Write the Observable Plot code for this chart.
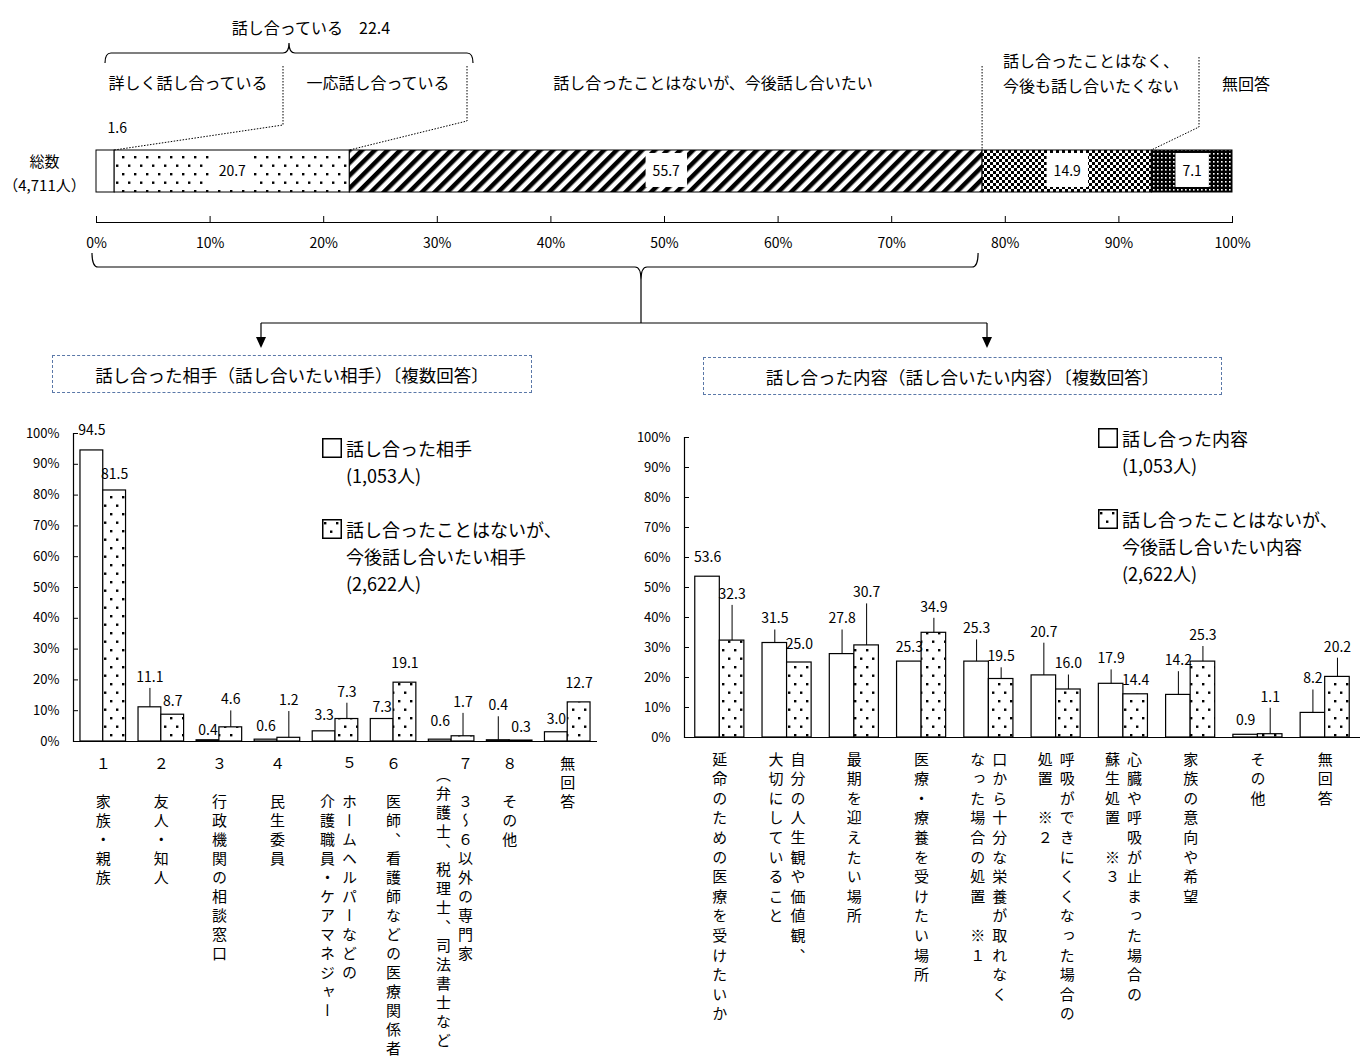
<!DOCTYPE html>
<html lang="ja">
<head>
<meta charset="utf-8">
<script src="https://cdn.jsdelivr.net/npm/d3@7"></script>
<script src="https://cdn.jsdelivr.net/npm/@observablehq/plot@0.6"></script>
<style>
  html, body { margin: 0; padding: 0; background: #fff; }
  #page { position: relative; width: 1368px; height: 1058px; overflow: hidden;
          font-family: "Noto Sans CJK JP", sans-serif; color: #000; }
  .title-box { position: absolute; box-sizing: border-box; border: 1.5px dashed #5a78a8;
               display: flex; align-items: center; justify-content: center; font-size: 17.5px; }
  .legend { position: absolute; font-size: 18px; }
  .legend .row { display: flex; align-items: center; height: 27px; white-space: nowrap; }
</style>
</head>
<body>
<div id="page"></div>
<script>
// ---------------- data ----------------
// Overall: have you discussed end-of-life care? (total 4,711 people)
const topCategories = [
  "詳しく話し合っている",
  "一応話し合っている",
  "話し合ったことはないが、今後話し合いたい",
  "話し合ったことはなく、今後も話し合いたくない",
  "無回答"
];
const topValues = [1.6, 20.7, 55.7, 14.9, 7.1];
const discussedTotal = 22.4;
const topRowLabel = "総数\n（4,711人）";
const topTicks = [0, 10, 20, 30, 40, 50, 60, 70, 80, 90, 100];

// Who they discussed with / want to discuss with
const partnerTitle = "話し合った相手（話し合いたい相手）〔複数回答〕";
const partnerCategories = [
  "家族・親族", "友人・知人", "行政機関の相談窓口", "民生委員",
  "ホームヘルパーなどの介護職員・ケアマネジャー", "医師、看護師などの医療関係者",
  "３～６以外の専門家（弁護士、税理士、司法書士など", "その他", "無回答"
];
const partnerLabelColumns = [
  ["１　家族・親族"],
  ["２　友人・知人"],
  ["３　行政機関の相談窓口"],
  ["４　民生委員"],
  ["５　ホームヘルパーなどの", "　　介護職員・ケアマネジャー"],
  ["６　医師、看護師などの医療関係者"],
  ["７　３～６以外の専門家", "　（弁護士、税理士、司法書士など"],
  ["８　その他"],
  ["無回答"]
];
const partnerDiscussed = [94.5, 11.1, 0.4, 0.6, 3.3, 7.3, 0.6, 0.4, 3.0];
const partnerWish      = [81.5, 8.7, 4.6, 1.2, 7.3, 19.1, 1.7, 0.3, 12.7];
const partnerSeries = ["話し合った相手", "話し合ったことはないが、\n今後話し合いたい相手"];
const partnerCounts = ["(1,053人)", "(2,622人)"];

// What they discussed / want to discuss
const topicTitle = "話し合った内容（話し合いたい内容）〔複数回答〕";
const topicCategories = [
  "延命のための医療を受けたいか", "自分の人生観や価値観、大切にしていること",
  "最期を迎えたい場所", "医療・療養を受けたい場所",
  "口から十分な栄養が取れなくなった場合の処置 ※1", "呼吸ができにくくなった場合の処置 ※2",
  "心臓や呼吸が止まった場合の蘇生処置 ※3", "家族の意向や希望", "その他", "無回答"
];
const topicLabelColumns = [
  ["延命のための医療を受けたいか"],
  ["自分の人生観や価値観、", "大切にしていること"],
  ["最期を迎えたい場所"],
  ["医療・療養を受けたい場所"],
  ["口から十分な栄養が取れなく", "なった場合の処置　※１"],
  ["呼吸ができにくくなった場合の", "処置　※２"],
  ["心臓や呼吸が止まった場合の", "蘇生処置　※３"],
  ["家族の意向や希望"],
  ["その他"],
  ["無回答"]
];
const topicDiscussed = [53.6, 31.5, 27.8, 25.3, 25.3, 20.7, 17.9, 14.2, 0.9, 8.2];
const topicWish      = [32.3, 25.0, 30.7, 34.9, 19.5, 16.0, 14.4, 25.3, 1.1, 20.2];
const topicSeries = ["話し合った内容", "話し合ったことはないが、\n今後話し合いたい内容"];
const topicCounts = ["(1,053人)", "(2,622人)"];

const percentTicks = [0, 10, 20, 30, 40, 50, 60, 70, 80, 90, 100];

// ---------------- label placement (how far above each bar its value sits, in % points) ----------------
const partnerLiftA = [6.4, 9.7, 3.1, 4.2, 5.0, 3.7, 5.9, 11.2, 4.3];
const partnerLiftB = [5.3, 4.3, 8.9, 12.1, 8.7, 6.2, 11.0, 4.2, 6.0];
const topicLiftA   = [6.3, 8.0, 11.7, 4.8, 10.9, 14.4, 8.3, 11.4, 4.7, 11.3];
const topicLiftB   = [15.4, 6.0, 17.5, 8.5, 7.4, 8.5, 4.5, 8.7, 12.3, 9.9];

// ---------------- styles ----------------
const W = 1368, H = 1058;
const JP_FONT = '"Noto Sans CJK JP", sans-serif';
const NUM_FONT = '"Liberation Sans Narrow", "Arial Narrow", "Noto Sans CJK JP", sans-serif';
const topPatterns = ["#fff", "url(#dots)", "url(#stripes)", "url(#checks)", "url(#dense)"];

const page = d3.select("#page");

// pattern fills shared by every chart on the page
const defs = page.append("svg").attr("width", 0).attr("height", 0)
  .style("position", "absolute").append("defs");
{
  const p = defs.append("pattern").attr("id", "dots").attr("patternUnits", "userSpaceOnUse")
    .attr("width", 12).attr("height", 17);
  p.append("rect").attr("width", 12).attr("height", 17).attr("fill", "#fff");
  p.append("rect").attr("x", 2).attr("y", 3).attr("width", 2.4).attr("height", 2.4).attr("fill", "#000");
  p.append("rect").attr("x", 8).attr("y", 11.5).attr("width", 2.4).attr("height", 2.4).attr("fill", "#000");
}
{
  const p = defs.append("pattern").attr("id", "stripes").attr("patternUnits", "userSpaceOnUse")
    .attr("width", 9).attr("height", 9).attr("patternTransform", "rotate(45)");
  p.append("rect").attr("width", 9).attr("height", 9).attr("fill", "#fff");
  p.append("rect").attr("width", 4.5).attr("height", 9).attr("fill", "#000");
}
{
  const p = defs.append("pattern").attr("id", "checks").attr("patternUnits", "userSpaceOnUse")
    .attr("width", 6).attr("height", 6);
  p.append("rect").attr("width", 6).attr("height", 6).attr("fill", "#fff");
  p.append("rect").attr("width", 3).attr("height", 3).attr("fill", "#000");
  p.append("rect").attr("x", 3).attr("y", 3).attr("width", 3).attr("height", 3).attr("fill", "#000");
}
{
  const p = defs.append("pattern").attr("id", "dense").attr("patternUnits", "userSpaceOnUse")
    .attr("width", 4).attr("height", 4);
  p.append("rect").attr("width", 4).attr("height", 4).attr("fill", "#000");
  p.append("rect").attr("x", 1).attr("y", 1).attr("width", 1.6).attr("height", 1.6).attr("fill", "#fff");
}

function place(node) {
  node.style.position = "absolute";
  node.style.left = "0px";
  node.style.top = "0px";
  page.node().appendChild(node);
  return node;
}

// ---------------- overall stacked bar ----------------
const topRows = topCategories.map((category, i) => ({category, value: topValues[i], pattern: topPatterns[i]}));
const topPlot = Plot.plot({
  width: W, height: 262,
  marginTop: 150, marginBottom: 40, marginLeft: 96, marginRight: 136,
  x: {domain: [0, 100], label: null},
  y: {type: "band", domain: ["総数"], range: [150, 192], padding: 0, axis: null},
  color: {type: "identity"},
  style: {fontFamily: NUM_FONT, fontSize: "14px", background: "transparent", color: "#000"},
  marks: [
    Plot.barX(topRows, Plot.stackX({x: "value", y: () => "総数", fill: "pattern", stroke: "#000", strokeWidth: 1})),
    Plot.text(topRows, Plot.stackX({x: "value", y: () => "総数", text: d => d.value >= 5 ? d.value.toFixed(1) : "",
      fontSize: 14, ariaDescription: "boxed-value"})),
    Plot.text(topRows, Plot.stackX({x: "value", y: () => "総数", text: d => d.value < 5 ? d.value.toFixed(1) : "",
      fontSize: 14, textAnchor: "start", dx: 2, dy: -43})),
    Plot.tickX(topTicks, {x: d => d, insetTop: 66, stroke: "#000"}),
    Plot.frame({anchor: "bottom", stroke: "#000"}),
    Plot.axisX(topTicks, {tickSize: 0, tickPadding: 16, tickFormat: d => d + "%", fontSize: 14, label: null}),
    Plot.text(["総数"], {y: d => d, text: () => topRowLabel, frameAnchor: "left", textAnchor: "middle", dx: -52,
      lineHeight: 1.55, fontSize: 15, fontFamily: JP_FONT})
  ]
});

// ---------------- grouped bar charts ----------------
function groupedChart({categories, columns, discussed, wish, liftA, liftB, left, right, top, bottom,
                       paddingInner, paddingOuter, colDx}) {
  const bw = d3.scaleBand(categories, [left, right]).paddingInner(paddingInner).paddingOuter(paddingOuter).bandwidth();
  const half = bw / 2;
  const rows = categories.map((cat, i) => ({cat, a: discussed[i], b: wish[i], liftA: liftA[i], liftB: liftB[i]}));
  const labels = categories.flatMap((cat, i) => columns[i].map((text, j) => ({cat, text, col: j, n: columns[i].length})));
  const frameW = right - left;
  const vText = {x: "cat", text: "text", frameAnchor: "bottom", dy: 14, textAnchor: "start",
                 fontSize: 15, fontFamily: JP_FONT, ariaDescription: "vertical-label"};
  return Plot.plot({
    width: W, height: H,
    marginLeft: left, marginRight: W - right, marginTop: top, marginBottom: H - bottom,
    x: {type: "band", domain: categories, paddingInner, paddingOuter, round: false, axis: null},
    y: {domain: [0, 100], axis: null},
    style: {fontFamily: NUM_FONT, fontSize: "13px", background: "transparent", color: "#000"},
    marks: [
      Plot.barY(rows, {x: "cat", y: "a", fill: "#fff", stroke: "#000", strokeWidth: 1.2, insetRight: half}),
      Plot.barY(rows, {x: "cat", y: "b", fill: "url(#dots)", stroke: "#000", strokeWidth: 1.2, insetLeft: half}),
      // leader lines for labels lifted away from their bars
      Plot.ruleX(rows.filter(d => d.liftA > 7), {x: "cat", y1: d => d.a + d.liftA, y2: "a", dx: -half / 2, insetTop: 11, stroke: "#000"}),
      Plot.ruleX(rows.filter(d => d.liftB > 7), {x: "cat", y1: d => d.b + d.liftB, y2: "b", dx: half / 2, insetTop: 11, stroke: "#000"}),
      Plot.text(rows, {x: "cat", y: d => d.a + d.liftA, text: d => d.a.toFixed(1), dx: -half / 2, fontSize: 14}),
      Plot.text(rows, {x: "cat", y: d => d.b + d.liftB, text: d => d.b.toFixed(1), dx: half / 2, fontSize: 14}),
      // axes
      Plot.ruleY([0], {stroke: "#000", strokeWidth: 1.2}),
      Plot.frame({anchor: "left", stroke: "#000", strokeWidth: 1.2}),
      Plot.tickY(percentTicks, {y: d => d, insetRight: frameW - 5, stroke: "#000"}),
      Plot.axisY(percentTicks, {tickSize: 0, tickPadding: 14, tickFormat: d => d + "%", fontSize: 13, label: null}),
      // vertical category labels
      Plot.text(labels.filter(d => d.n === 1), vText),
      Plot.text(labels.filter(d => d.n > 1 && d.col === 0), {...vText, dx: colDx[0]}),
      Plot.text(labels.filter(d => d.n > 1 && d.col === 1), {...vText, dx: colDx[1]})
    ]
  });
}

const leftPlot = groupedChart({
  categories: partnerCategories, columns: partnerLabelColumns,
  discussed: partnerDiscussed, wish: partnerWish, liftA: partnerLiftA, liftB: partnerLiftB,
  left: 73, right: 597, top: 433, bottom: 741, paddingInner: 0.215, paddingOuter: 0.12, colDx: [14, -8]
});
const rightPlot = groupedChart({
  categories: topicCategories, columns: topicLabelColumns,
  discussed: topicDiscussed, wish: topicWish, liftA: topicLiftA, liftB: topicLiftB,
  left: 684, right: 1360, top: 437, bottom: 737, paddingInner: 0.27, paddingOuter: 0.16, colDx: [11, -11]
});

place(leftPlot);
place(rightPlot);
place(topPlot);

// category labels are set in vertical Japanese writing
for (const [svg, spacing] of [[leftPlot, "4px"], [rightPlot, "4.6px"]]) {
  d3.select(svg).selectAll('g[aria-description="vertical-label"] text')
    .attr("dy", null)
    .style("writing-mode", "vertical-rl")
    .style("letter-spacing", spacing);
}

// white boxes behind the values printed inside the stacked bar
d3.select(topPlot).selectAll('g[aria-description="boxed-value"] text').each(function() {
  if (!this.textContent) return;
  const b = this.getBBox();
  const r = document.createElementNS("http://www.w3.org/2000/svg", "rect");
  r.setAttribute("x", b.x - 7);
  r.setAttribute("y", b.y - 7);
  r.setAttribute("width", b.width + 14);
  r.setAttribute("height", b.height + 14);
  r.setAttribute("fill", "#fff");
  if (this.getAttribute("transform")) r.setAttribute("transform", this.getAttribute("transform"));
  this.parentNode.insertBefore(r, this);
});

// ---------------- annotations: braces, leaders and connectors ----------------
const xs = v => topPlot.scale("x").apply(v);
const stops = Array.from(d3.cumsum(topValues));
const ov = page.append("svg").attr("width", W).attr("height", H)
  .style("position", "absolute").style("left", "0px").style("top", "0px")
  .attr("font-family", JP_FONT).attr("font-size", 16);

const header = ov.append("text").attr("x", 311).attr("y", 27).attr("text-anchor", "middle").attr("dominant-baseline", "central");
header.append("tspan").text("話し合っている　");
header.append("tspan").attr("font-family", NUM_FONT).text(discussedTotal.toFixed(1));

const solid = g => g.attr("fill", "none").attr("stroke", "#000").attr("stroke-width", 1.2);
const dotted = g => g.attr("fill", "none").attr("stroke", "#000").attr("stroke-width", 1).attr("stroke-dasharray", "1.5 1.5");

ov.append("path").call(solid)
  .attr("d", "M105,63 Q105,53 111,53 H283 Q289,53 289,43 Q289,53 295,53 H467 Q473,53 473,63");

const mid = (t, x, y) => ov.append("text").attr("x", x).attr("y", y).attr("text-anchor", "middle")
  .attr("dominant-baseline", "central").text(t);
mid(topCategories[0], 188, 82);
mid(topCategories[1], 378, 82);
mid(topCategories[2], 713, 82);
topCategories[3].split(/(?<=、)/).forEach((t, i) =>
  ov.append("text").attr("x", 1003).attr("y", 60 + i * 25).attr("dominant-baseline", "central").text(t));
mid(topCategories[4], 1246, 83);

ov.append("path").call(dotted).attr("d", `M283,66 V125 L${xs(stops[0])},150`);
ov.append("path").call(dotted).attr("d", `M467,66 V121 L${xs(stops[1])},150`);
ov.append("path").call(dotted).attr("d", `M${xs(stops[2])},66 V150`);
ov.append("path").call(dotted).attr("d", `M1199,57 V127 L${xs(stops[3])},150`);

// brace under the axis gathering the "discussed" and "want to discuss" groups
const bl = xs(0) - 4, br = xs(stops[2]) - 4, by = 267, bc = 641;
ov.append("path").call(solid)
  .attr("d", `M${bl},253 Q${bl},${by} ${bl + 6},${by} H${bc - 6} Q${bc},${by} ${bc},280 Q${bc},${by} ${bc + 6},${by} H${br - 6} Q${br},${by} ${br},253`);
ov.append("path").call(solid).attr("d", `M${bc},280 V323 M261,323 H987 M261,323 V338 M987,323 V338`);
for (const ax of [261, 987]) {
  ov.append("path").attr("fill", "#000").attr("d", `M${ax - 5},337 L${ax + 5},337 L${ax},348 Z`);
}

// ---------------- titles and legends ----------------
function titleBox(x, y, w, h, text) {
  page.append("div").attr("class", "title-box")
    .style("left", x + "px").style("top", y + "px").style("width", w + "px").style("height", h + "px")
    .text(text);
}
titleBox(52, 355, 480, 38, partnerTitle);
titleBox(703, 357, 519, 38, topicTitle);

function legend(x, y, names, counts) {
  const box = page.append("div").attr("class", "legend").style("left", x + "px").style("top", y + "px");
  names.forEach((name, i) => {
    if (i) box.append("div").attr("class", "row");
    name.split("\n").concat(counts[i]).forEach((t, j) => {
      const row = box.append("div").attr("class", "row");
      if (j === 0) {
        const s = row.append("svg").attr("width", 20).attr("height", 20).style("margin-right", "4px");
        s.append("rect").attr("x", 0.75).attr("y", 0.75).attr("width", 18.5).attr("height", 18.5)
          .attr("fill", i ? "url(#dots)" : "#fff").attr("stroke", "#000").attr("stroke-width", 1.5);
      } else {
        row.append("span").style("display", "inline-block").style("width", "24px");
      }
      row.append("span").text(t);
    });
  });
}
legend(322, 434, partnerSeries, partnerCounts);
legend(1098, 424, topicSeries, topicCounts);
</script>
</body>
</html>
